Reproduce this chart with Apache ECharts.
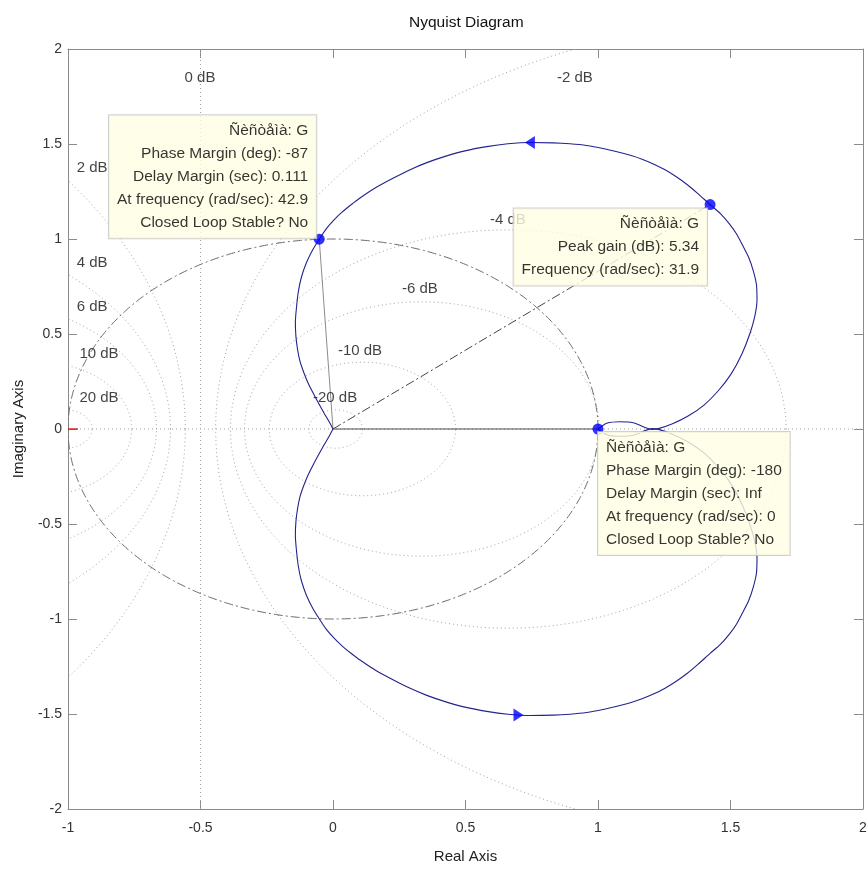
<!DOCTYPE html>
<html><head><meta charset="utf-8">
<script src="https://cdn.jsdelivr.net/npm/echarts@6/dist/echarts.min.js"></script>
<style>html,body{margin:0;padding:0;background:#fff}#c{width:868px;height:870px}</style>
</head><body><div id="c"></div>
<script>
// ---------- data ----------
const chartTitle = 'Nyquist Diagram';
const xAxisName = 'Real Axis';
const yAxisName = 'Imaginary Axis';
const xTicks = [-1, -0.5, 0, 0.5, 1, 1.5, 2];
const yTicks = [-2, -1.5, -1, -0.5, 0, 0.5, 1, 1.5, 2];

// positive-frequency branch (omega: 0 -> inf)
const curveRe = [1.000, 1.033, 1.083, 1.133, 1.171, 1.203, 1.228, 1.279, 1.340, 1.400, 1.453, 1.502, 1.543, 1.574, 1.592, 1.600, 1.598, 1.586, 1.568, 1.547, 1.523, 1.498, 1.462, 1.423, 1.377, 1.336, 1.294, 1.253, 1.211, 1.166, 1.125, 1.083, 1.019, 0.957, 0.894, 0.831, 0.743, 0.660, 0.580, 0.498, 0.423, 0.354, 0.291, 0.228, 0.162, 0.102, 0.068, 0.034, 0.004, -0.025, -0.052, -0.077, -0.100, -0.119, -0.131, -0.138, -0.142, -0.140, -0.134, -0.125, -0.111, -0.094, -0.075, -0.055, -0.034, -0.015, 0.000];
const curveIm = [0.000, 0.030, 0.038, 0.033, 0.012, -0.002, 0.002, 0.026, 0.068, 0.126, 0.200, 0.289, 0.395, 0.505, 0.595, 0.679, 0.758, 0.832, 0.905, 0.963, 1.026, 1.076, 1.134, 1.181, 1.239, 1.287, 1.329, 1.364, 1.394, 1.420, 1.439, 1.455, 1.476, 1.492, 1.501, 1.506, 1.508, 1.501, 1.486, 1.464, 1.435, 1.402, 1.365, 1.321, 1.271, 1.216, 1.180, 1.141, 1.101, 1.055, 0.999, 0.942, 0.876, 0.800, 0.721, 0.637, 0.563, 0.489, 0.421, 0.358, 0.300, 0.242, 0.189, 0.137, 0.084, 0.039, 0.000];

// direction arrows
const arrowRe = [0.743, 0.700];
const arrowIm = [1.508, -1.505];

// characteristic points: phase margin, peak gain, omega = 0
const markerRe = [-0.052, 1.423, 1.000];
const markerIm = [0.999, 1.181, 0.000];
const pmText   = ['Ñèñòåìà: G', 'Phase Margin (deg): -87', 'Delay Margin (sec): 0.111', 'At frequency (rad/sec): 42.9', 'Closed Loop Stable? No'];
const peakText = ['Ñèñòåìà: G', 'Peak gain (dB): 5.34', 'Frequency (rad/sec): 31.9'];
const dcText   = ['Ñèñòåìà: G', 'Phase Margin (deg): -180', 'Delay Margin (sec): Inf', 'At frequency (rad/sec): 0', 'Closed Loop Stable? No'];

// critical point
const criticalPoint = [-1, 0];

// closed-loop magnitude (M) circles of the Nyquist grid, in dB
const mCircleDb = [-20, -10, -6, -4, -2, 2, 4, 6, 10, 20];
const zeroDbRe = -0.5;
const unitRadius = [1];
const gridLabels = ['0 dB', '-2 dB', '2 dB', '-4 dB', '4 dB', '-6 dB', '6 dB', '10 dB', '-10 dB', '20 dB', '-20 dB'];
const gridLabelRe = [-0.502, 0.913, -0.909, 0.660, -0.909, 0.328, -0.909, -0.883, 0.102, -0.883, 0.008];
const gridLabelIm = [1.847, 1.847, 1.374, 1.100, 0.874, 0.737, 0.642, 0.395, 0.411, 0.163, 0.163];

// ---------- build ----------
const FONT = 'Liberation Sans, Arial, sans-serif';
const upper = curveRe.map((r, i) => [r, curveIm[i]]);
const lower = curveRe.map((r, i) => [r, -curveIm[i]]); // negative-frequency branch (conjugate)

function clipRect(params) {
  const cs = params.coordSys;
  return {type: 'rect', shape: {x: cs.x, y: cs.y, width: cs.width, height: cs.height}};
}
function ellipsePts(api, cx, r) {
  const pts = [];
  for (let k = 0; k <= 720; k++) {
    const t = k * Math.PI / 360;
    pts.push(api.coord([cx + r * Math.cos(t), r * Math.sin(t)]));
  }
  return pts;
}

const boxStyle = {
  show: true, color: '#000', fontSize: 15.5, fontFamily: FONT, lineHeight: 23,
  backgroundColor: '#ffffe4', borderColor: '#c4c4c4', borderWidth: 1, padding: [4, 8, 4, 8]
};

const option = {
  animation: false,
  backgroundColor: '#fff',
  title: {text: chartTitle, left: 404, top: 10, textStyle: {fontSize: 15.5, fontWeight: 'normal', color: '#111', fontFamily: FONT}},
  grid: {left: 68, right: 5, top: 49, bottom: 61, containLabel: false, outerBoundsMode: 'none'},
  xAxis: [
    {type: 'value', min: xTicks[0], max: xTicks[xTicks.length - 1], interval: xTicks[1] - xTicks[0], position: 'bottom',
     name: xAxisName, nameLocation: 'middle', nameGap: 40, nameTextStyle: {fontSize: 15, color: '#222', fontFamily: FONT},
     axisLine: {show: true, onZero: false, lineStyle: {color: '#8a8a8a'}},
     axisTick: {show: true, inside: true, length: 9, lineStyle: {color: '#8a8a8a'}},
     axisLabel: {show: true, margin: 12, fontSize: 14, color: '#333', fontFamily: FONT, showMinLabel: true, showMaxLabel: true, hideOverlap: false},
     splitLine: {show: false}},
    {type: 'value', min: xTicks[0], max: xTicks[xTicks.length - 1], interval: xTicks[1] - xTicks[0], position: 'top',
     axisLine: {show: true, onZero: false, lineStyle: {color: '#8a8a8a'}},
     axisTick: {show: true, inside: true, length: 9, lineStyle: {color: '#8a8a8a'}},
     axisLabel: {show: false}, splitLine: {show: false}}
  ],
  yAxis: [
    {type: 'value', min: yTicks[0], max: yTicks[yTicks.length - 1], interval: yTicks[1] - yTicks[0], position: 'left',
     name: yAxisName, nameLocation: 'middle', nameGap: 42, nameTextStyle: {fontSize: 15, color: '#222', fontFamily: FONT},
     axisLine: {show: true, onZero: false, lineStyle: {color: '#8a8a8a'}},
     axisTick: {show: true, inside: true, length: 9, lineStyle: {color: '#8a8a8a'}},
     axisLabel: {show: true, margin: 6, fontSize: 14, color: '#333', fontFamily: FONT, showMinLabel: true, showMaxLabel: true, hideOverlap: false},
     splitLine: {show: false}},
    {type: 'value', min: yTicks[0], max: yTicks[yTicks.length - 1], interval: yTicks[1] - yTicks[0], position: 'right',
     axisLine: {show: true, onZero: false, lineStyle: {color: '#8a8a8a'}},
     axisTick: {show: true, inside: true, length: 9, lineStyle: {color: '#8a8a8a'}},
     axisLabel: {show: false}, splitLine: {show: false}}
  ],
  series: [
    // M circles
    {type: 'custom', silent: true, z: 1, clip: true,
     data: mCircleDb.map(d => [d, 0]),
     renderItem: function (params, api) {
       const db = api.value(0);
       const M2 = Math.pow(10, db / 10);
       const c = -M2 / (M2 - 1);
       const r = Math.abs(Math.sqrt(M2) / (M2 - 1));
       return {type: 'polyline', shape: {points: ellipsePts(api, c, r)}, clipPath: clipRect(params),
               style: {stroke: '#a2a2a2', lineWidth: 1, lineDash: [1, 3], fill: null}};
     }},
    // 0 dB line and real axis grid line
    {type: 'line', silent: true, z: 1, showSymbol: false, symbol: 'none',
     data: [[zeroDbRe, yTicks[0]], [zeroDbRe, yTicks[yTicks.length - 1]]],
     lineStyle: {color: '#a2a2a2', width: 1, type: [1, 3]}},
    {type: 'line', silent: true, z: 1, showSymbol: false, symbol: 'none',
     data: [[xTicks[0], 0], [xTicks[xTicks.length - 1], 0]],
     lineStyle: {color: '#a2a2a2', width: 1, type: [1, 3]}},
    // unit circle (dash-dot)
    {type: 'custom', silent: true, z: 2, clip: true,
     data: unitRadius.map(r => [r, 0]),
     renderItem: function (params, api) {
       return {type: 'polyline', shape: {points: ellipsePts(api, 0, api.value(0))}, clipPath: clipRect(params),
               style: {stroke: '#6a6a6a', lineWidth: 1, lineDash: [9, 3, 2, 3], fill: null}};
     }},
    // lines from origin to the characteristic points
    {type: 'line', silent: true, z: 3, symbol: 'none', data: [[0, 0], [markerRe[0], markerIm[0]]],
     lineStyle: {color: '#8c8c8c', width: 1}},
    {type: 'line', silent: true, z: 3, symbol: 'none', data: [[0, 0], [markerRe[1], markerIm[1]]],
     lineStyle: {color: '#444', width: 1, type: [9, 3, 2, 3]}},
    {type: 'line', silent: true, z: 3, symbol: 'none', data: [[0, 0], [markerRe[2], markerIm[2]]],
     lineStyle: {color: '#4a4a4a', width: 1}},
    // critical point (-1, 0)
    {type: 'custom', silent: true, z: 4, clip: true, data: [criticalPoint],
     renderItem: function (params, api) {
       const p = api.coord([api.value(0), api.value(1)]);
       return {type: 'line', shape: {x1: p[0] - 10, y1: p[1], x2: p[0] + 10, y2: p[1]}, clipPath: clipRect(params),
               style: {stroke: '#e00000', lineWidth: 1.2}};
     }},
    // grid labels
    {type: 'scatter', silent: true, z: 4, symbolSize: 1, itemStyle: {color: 'rgba(0,0,0,0)'},
     data: gridLabels.map((t, i) => ({value: [gridLabelRe[i], gridLabelIm[i]], name: t})),
     label: {show: true, position: 'inside', formatter: p => p.name, color: '#111', fontSize: 15, fontFamily: FONT}},
    // Nyquist curve
    {type: 'line', silent: true, z: 5, symbol: 'none', smooth: 0.2, data: upper,
     lineStyle: {color: '#23238e', width: 1.1}},
    {type: 'line', silent: true, z: 5, symbol: 'none', smooth: 0.2, data: lower,
     lineStyle: {color: '#23238e', width: 1.1}},
    // arrows
    {type: 'scatter', silent: true, z: 6, symbol: 'triangle', symbolSize: [13, 10], itemStyle: {color: '#0000ff'},
     data: arrowRe.map((r, i) => ({value: [r, arrowIm[i]], symbolRotate: arrowIm[i] > 0 ? 90 : -90}))},
    // markers with data-tip boxes
    {type: 'scatter', silent: true, z: 10, symbol: 'circle', symbolSize: 11, itemStyle: {color: '#0000ff'},
     data: [
       {value: [markerRe[0], markerIm[0]], label: Object.assign({}, boxStyle, {formatter: pmText.join('\n'), position: [2.5, 4.5], align: 'right', verticalAlign: 'bottom'})},
       {value: [markerRe[1], markerIm[1]], label: Object.assign({}, boxStyle, {formatter: peakText.join('\n'), position: [2.5, 9.5], align: 'right', verticalAlign: 'top'})},
       {value: [markerRe[2], markerIm[2]], label: Object.assign({}, boxStyle, {formatter: dcText.join('\n'), position: [5.5, 8.5], align: 'left', verticalAlign: 'top'})}
     ]}
  ]
};
const chart = echarts.init(document.getElementById('c'), null, {renderer: 'canvas'});
chart.setOption(option);
</script></body></html>
